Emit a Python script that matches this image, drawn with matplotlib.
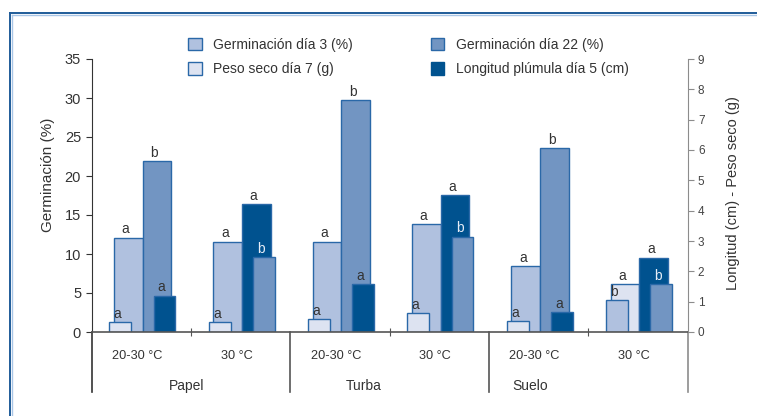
import matplotlib
matplotlib.use('Agg')
import matplotlib.pyplot as plt
import matplotlib.transforms as mtransforms
from matplotlib.patches import Patch
from matplotlib.lines import Line2D

plt.rcParams['font.family'] = ['Liberation Sans', 'DejaVu Sans']

# Datos
sustratos = ['Papel', 'Turba', 'Suelo']
temperaturas = ['20-30 °C', '30 °C', '20-30 °C', '30 °C', '20-30 °C', '30 °C']
germ_d3 = [12.1, 11.6, 11.6, 13.8, 8.4, 4.1]        # eje izquierdo (%)
germ_d22 = [21.9, 9.6, 29.7, 12.2, 23.6, 6.1]       # eje izquierdo (%)
peso_d7 = [0.33, 0.33, 0.42, 0.63, 0.35, 1.57]      # eje derecho (g)
long_d5 = [1.2, 4.22, 1.57, 4.52, 0.65, 2.45]       # eje derecho (cm)
letras_d3 = ['a', 'a', 'a', 'a', 'a', 'b']
letras_d22 = ['b', 'b', 'b', 'b', 'b', 'b']
letras_peso = ['a', 'a', 'a', 'a', 'a', 'a']
letras_long = ['a', 'a', 'a', 'a', 'a', 'a']

c_d3 = '#B0C1DF'
c_d22 = '#7295C2'
c_peso = '#DDE3F1'
c_long = '#00528F'
borde = '#2A68A8'
texto = '#333333'

fig = plt.figure(figsize=(7.57, 4.16), dpi=100)
W, H = 757, 416
ax = fig.add_axes([91.5 / W, (H - 332) / H, 596 / W, 273 / H])
ax2 = ax.twinx()
ax.set_xlim(0, 6)
ax.set_ylim(0, 35)
ax2.set_ylim(0, 9)

ancho_w, ancho_n = 0.29, 0.22
off_w1, off_w2, off_n1, off_n2 = -0.13, 0.16, -0.21, 0.235


def barra(x, val, ancho, color, eje, letra, z, col_letra=texto):
    ax.bar(x, val, ancho, color=color, edgecolor=borde, linewidth=1.0,
           zorder=z, transform=eje.transData)
    t = mtransforms.offset_copy(eje.transData, fig=fig, x=-2, y=1, units='points')
    ax.text(x, val, letra, ha='center', va='bottom', fontsize=10,
            color=col_letra, transform=t, zorder=z + 2, clip_on=False)


for g in range(6):
    c = g + 0.5
    # par 1: germinación día 3 / peso seco (más alto detrás, ancho)
    a = (germ_d3[g], c_d3, ax, letras_d3[g])
    b = (peso_d7[g], c_peso, ax2, letras_peso[g])
    alto_a = ax.transData.transform((0, a[0]))[1]
    alto_b = ax2.transData.transform((0, b[0]))[1]
    atras, frente = (a, b) if alto_a >= alto_b else (b, a)
    barra(c + off_w1, atras[0], ancho_w, atras[1], atras[2], atras[3], 2)
    barra(c + off_n1, frente[0], ancho_n, frente[1], frente[2], frente[3], 3)
    # par 2: germinación día 22 / longitud plúmula
    a = (germ_d22[g], c_d22, ax, letras_d22[g])
    b = (long_d5[g], c_long, ax2, letras_long[g])
    alto_a = ax.transData.transform((0, a[0]))[1]
    alto_b = ax2.transData.transform((0, b[0]))[1]
    atras, frente = (a, b) if alto_a >= alto_b else (b, a)
    barra(c + off_w2, atras[0], ancho_w, atras[1], atras[2], atras[3], 2)
    col = '#E6EDF7' if atras[1] == c_long else texto
    barra(c + off_n2, frente[0], ancho_n, frente[1], frente[2], frente[3], 3, col)

# ejes
for s in ['top', 'right', 'bottom']:
    ax.spines[s].set_visible(False)
for s in ['top', 'left', 'bottom']:
    ax2.spines[s].set_visible(False)
ax.spines['left'].set_color(texto)
ax2.spines['right'].set_color('#8C8C8C')
ax.axhline(0, color='#555555', lw=1.2, zorder=5, clip_on=False)

ax.set_yticks(range(0, 36, 5))
ax.tick_params(axis='y', direction='out', length=4, colors=texto, labelsize=10.5)
ax2.set_yticks(range(0, 10))
ax2.tick_params(axis='y', direction='out', length=4, color='#8C8C8C',
                labelcolor='#444444', labelsize=8.5)
ax.set_xticks([1, 3, 5])
ax.set_xticklabels([])
ax.tick_params(axis='x', direction='inout', length=6, color='#555555')

trans = mtransforms.blended_transform_factory(ax.transData, ax.transAxes)
for xs, col in [(0, texto), (2, '#555555'), (4, '#555555'), (6, '#8C8C8C')]:
    ax.add_line(Line2D([xs, xs], [0, -0.22], color=col, lw=1.2,
                       transform=trans, clip_on=False))
for g, t in enumerate(temperaturas):
    ax.text(g + 0.46, -0.087, t, ha='center', va='center', fontsize=9.2,
            color=texto, transform=trans)
for xs, s in zip([0.96, 2.74, 4.42], sustratos):
    ax.text(xs, -0.197, s, ha='center', va='center', fontsize=10,
            color=texto, transform=trans)

ax.set_ylabel('Germinación (%)', fontsize=11, color=texto)
ax.yaxis.set_label_coords(-0.062, 0.575)
ax2.set_ylabel('Longitud (cm) - Peso seco (g)', fontsize=10.5, color=texto, rotation=90)
ax2.yaxis.set_label_coords(1.064, 0.51)

# leyenda
handles = [Patch(facecolor=c_d3, edgecolor=borde, label='Germinación día 3 (%)'),
           Patch(facecolor=c_peso, edgecolor=borde, label='Peso seco día 7 (g)'),
           Patch(facecolor=c_d22, edgecolor=borde, label='Germinación día 22 (%)'),
           Patch(facecolor=c_long, edgecolor=c_long, label='Longitud plúmula día 5 (cm)')]
leg = fig.legend(handles=handles, ncol=2, loc='upper left',
                 bbox_to_anchor=(188 / W, 1 - 38 / H), frameon=False,
                 fontsize=10, handlelength=1.0, handleheight=1.0,
                 handletextpad=0.8, columnspacing=5.6, labelspacing=0.75,
                 borderpad=0, borderaxespad=0)
for t in leg.get_texts():
    t.set_color(texto)

# marco azul
fig.add_artist(Line2D([10 / W, 1], [1 - 13 / H, 1 - 13 / H], color='#1F5C99', lw=1.4,
                      transform=fig.transFigure))
fig.add_artist(Line2D([10 / W, 10 / W], [0, 1 - 13 / H], color='#1F5C99', lw=1.4,
                      transform=fig.transFigure))
fig.add_artist(Line2D([11.5 / W, 1], [1 - 14.5 / H, 1 - 14.5 / H], color='#A9C6E6', lw=1.0,
                      transform=fig.transFigure))
fig.add_artist(Line2D([11.5 / W, 11.5 / W], [0, 1 - 14.5 / H], color='#A9C6E6', lw=1.0,
                      transform=fig.transFigure))

fig.savefig('out.png', dpi=100)
